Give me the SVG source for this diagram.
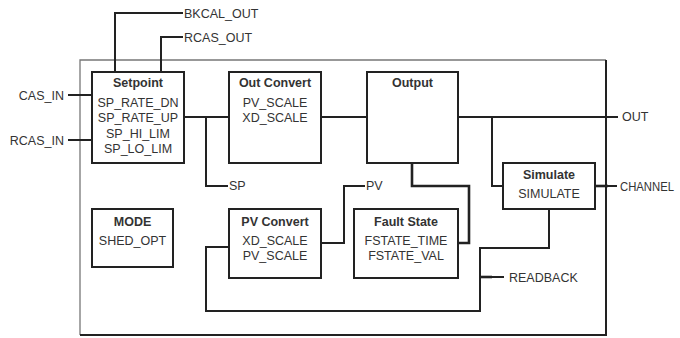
<svg xmlns="http://www.w3.org/2000/svg" width="680" height="338" viewBox="0 0 680 338">
<style>
  .box{fill:#fff;stroke:#222;stroke-width:2}
  .ln{fill:none;stroke:#222;stroke-width:2}
  .thick{fill:none;stroke:#222;stroke-width:2.6}
  text{font-family:"Liberation Sans",Arial,sans-serif;font-size:12.5px;fill:#333}
  .t{font-weight:bold;font-size:12.5px;text-anchor:middle}
  .c{text-anchor:middle}
  .r{text-anchor:end}
</style>
<rect width="680" height="338" fill="#fff"/>
<g id="frame">
  <path d="M80 335 V60 H606" fill="none" stroke="#777" stroke-width="1.3"/>
  <path d="M606 60 V335 H80" fill="none" stroke="#222" stroke-width="2"/>
</g>
<g id="connectors">
  <path class="ln" d="M115 72 V13 H183"/>
  <path class="ln" d="M161 72 V37 H183"/>
  <path class="ln" d="M68 95 H92"/>
  <path class="ln" d="M68 140 H92"/>
  <path class="ln" d="M184 117 H229"/>
  <path class="ln" d="M206 117 V186 H228"/>
  <path class="ln" d="M321 117 H367"/>
  <path class="ln" d="M458 117 H618"/>
  <path class="ln" d="M492 117 V186 H503"/>
  <path class="thick" d="M595 186 H608"/>
  <path class="ln" d="M606 186 H617"/>
  <path class="thick" d="M412 163 V186 H469 V243 H459"/>
  <path class="ln" d="M321 243 H344 V186 H365"/>
  <path class="ln" d="M229 247 H206 V311 H480 V248 H549 V209"/>
  <path class="thick" d="M480 277 H492"/>
  <path class="ln" d="M490 277 H504"/>
</g>
<g id="labels">
  <text x="184" y="18">BKCAL_OUT</text>
  <text x="184" y="42">RCAS_OUT</text>
  <text class="r" x="64" y="100">CAS_IN</text>
  <text class="r" x="64" y="145">RCAS_IN</text>
  <text x="229" y="190">SP</text>
  <text x="366" y="190">PV</text>
  <text x="622" y="121">OUT</text>
  <text x="620" y="191" textLength="54" lengthAdjust="spacingAndGlyphs">CHANNEL</text>
  <text x="509" y="282">READBACK</text>
</g>
<g id="setpoint">
  <rect class="box" x="92" y="72" width="92" height="91"/>
  <text class="t" x="138" y="87">Setpoint</text>
  <text class="c" x="138" y="107">SP_RATE_DN</text>
  <text class="c" x="138" y="122">SP_RATE_UP</text>
  <text class="c" x="138" y="137.5">SP_HI_LIM</text>
  <text class="c" x="138" y="153">SP_LO_LIM</text>
</g>
<g id="out-convert">
  <rect class="box" x="229" y="72" width="92" height="91"/>
  <text class="t" x="275" y="87">Out Convert</text>
  <text class="c" x="275" y="107">PV_SCALE</text>
  <text class="c" x="275" y="122">XD_SCALE</text>
</g>
<g id="output">
  <rect class="box" x="367" y="72" width="91" height="91"/>
  <text class="t" x="412.5" y="87">Output</text>
</g>
<g id="simulate">
  <rect class="box" x="503" y="163" width="92" height="46"/>
  <text class="t" x="549" y="179">Simulate</text>
  <text class="c" x="549" y="198">SIMULATE</text>
</g>
<g id="mode">
  <rect class="box" x="92" y="209" width="81" height="58"/>
  <text class="t" x="132.5" y="226">MODE</text>
  <text class="c" x="132.5" y="245">SHED_OPT</text>
</g>
<g id="pv-convert">
  <rect class="box" x="229" y="209" width="92" height="69"/>
  <text class="t" x="275" y="226">PV Convert</text>
  <text class="c" x="275" y="245">XD_SCALE</text>
  <text class="c" x="275" y="260">PV_SCALE</text>
</g>
<g id="fault-state">
  <rect class="box" x="354" y="209" width="104" height="69"/>
  <text class="t" x="406" y="226">Fault State</text>
  <text class="c" x="406" y="245">FSTATE_TIME</text>
  <text class="c" x="406" y="260">FSTATE_VAL</text>
</g>
</svg>
